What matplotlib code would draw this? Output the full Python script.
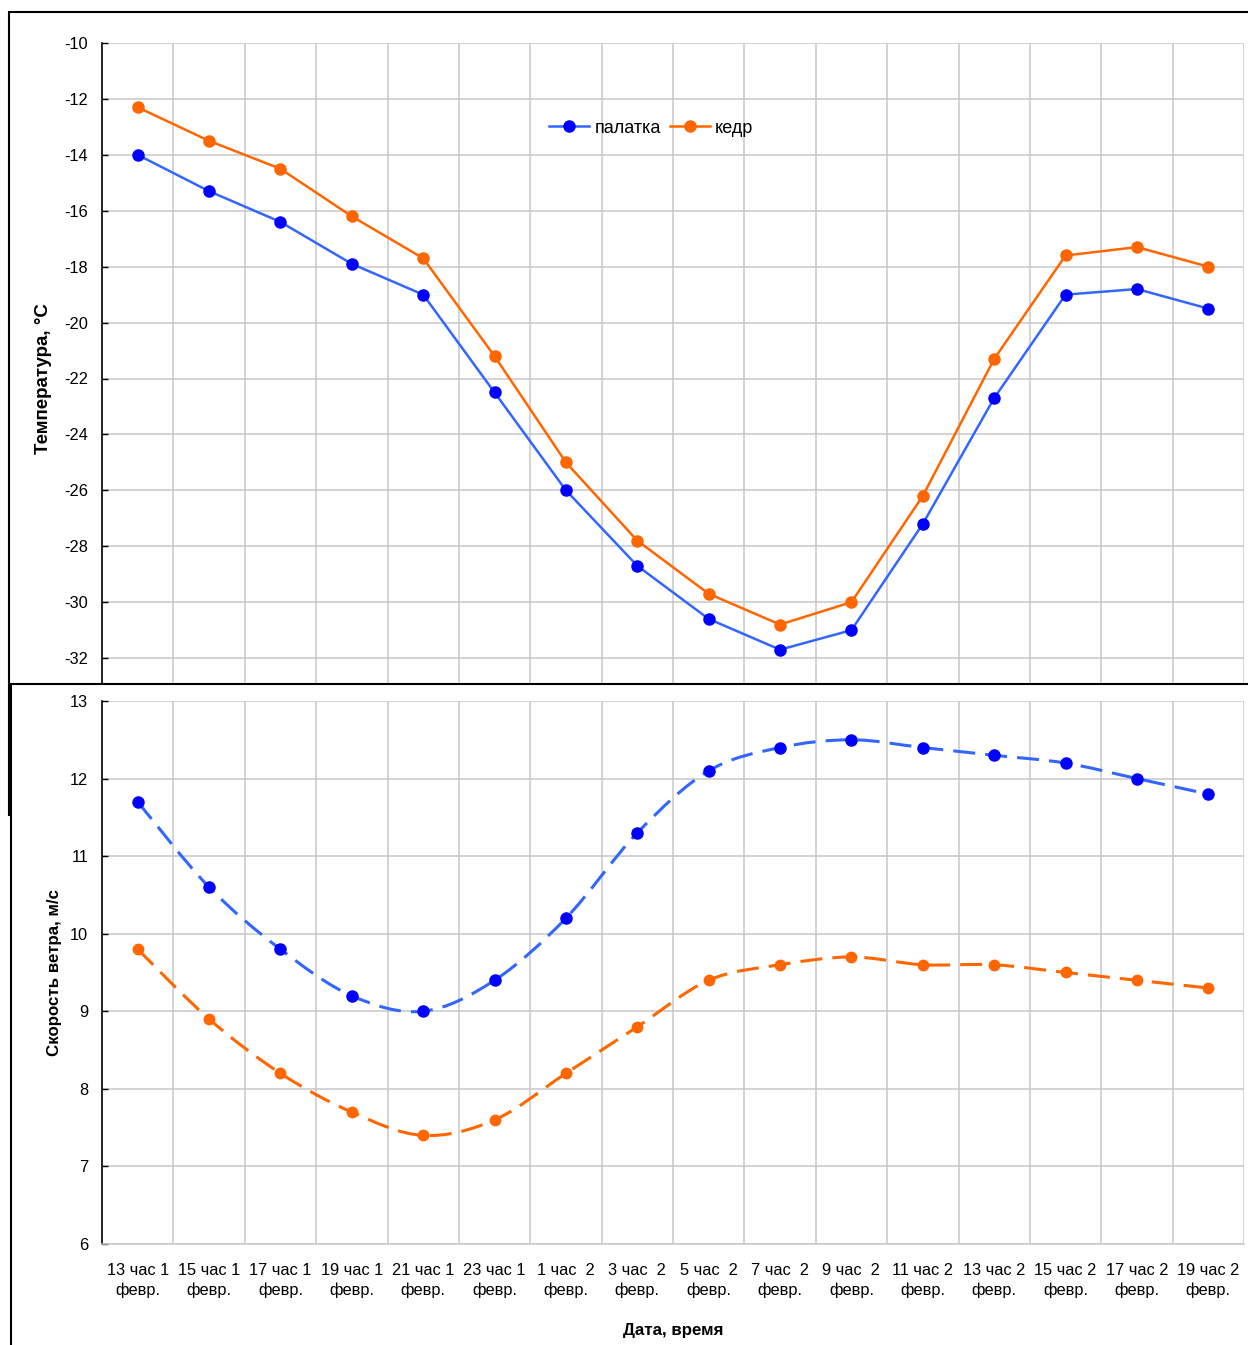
import matplotlib.pyplot as plt
from matplotlib.patches import Rectangle, PathPatch
from matplotlib.path import Path

plt.rcParams['font.family'] = ['Liberation Sans', 'DejaVu Sans']
plt.rcParams['axes.unicode_minus'] = False

# данные
hours = ["13 час 1\nфевр.", "15 час 1\nфевр.", "17 час 1\nфевр.", "19 час 1\nфевр.",
         "21 час 1\nфевр.", "23 час 1\nфевр.", "1 час  2\nфевр.", "3 час  2\nфевр.",
         "5 час  2\nфевр.", "7 час  2\nфевр.", "9 час  2\nфевр.", "11 час 2\nфевр.",
         "13 час 2\nфевр.", "15 час 2\nфевр.", "17 час 2\nфевр.", "19 час 2\nфевр."]

temp_tent = [-14.0, -15.3, -16.4, -17.9, -19.0, -22.5, -26.0, -28.7,
             -30.6, -31.7, -31.0, -27.2, -22.7, -19.0, -18.8, -19.5]
temp_cedar = [-12.3, -13.5, -14.5, -16.2, -17.7, -21.2, -25.0, -27.8,
              -29.7, -30.8, -30.0, -26.2, -21.3, -17.6, -17.3, -18.0]

wind_tent = [11.7, 10.6, 9.8, 9.2, 9.0, 9.4, 10.2, 11.3,
             12.1, 12.4, 12.5, 12.4, 12.3, 12.2, 12.0, 11.8]
wind_cedar = [9.8, 8.9, 8.2, 7.7, 7.4, 7.6, 8.2, 8.8,
              9.4, 9.6, 9.7, 9.6, 9.6, 9.5, 9.4, 9.3]

line_blue = '#3366ff'
mark_blue = '#0000ff'
orange = '#ff6600'
grid_c = '#c8c8c8'

W, H = 1248, 1345


def fx(px):
    return px / W


def fy(py):
    return 1 - py / H


def smooth_path(xs, ys):
    # сглаженная линия как в Excel (кривые Безье через точки)
    pts = list(zip(xs, ys))
    verts = [pts[0]]
    codes = [Path.MOVETO]
    n = len(pts)
    for i in range(n - 1):
        p0 = pts[i - 1] if i > 0 else pts[i]
        p1 = pts[i]
        p2 = pts[i + 1]
        p3 = pts[i + 2] if i + 2 < n else pts[i + 1]
        c1 = (p1[0] + (p2[0] - p0[0]) / 6, p1[1] + (p2[1] - p0[1]) / 6)
        c2 = (p2[0] - (p3[0] - p1[0]) / 6, p2[1] - (p3[1] - p1[1]) / 6)
        verts += [c1, c2, p2]
        codes += [Path.CURVE4] * 3
    return Path(verts, codes)


fig = plt.figure(figsize=(W / 100, H / 100), dpi=100)

# рамки двух диаграмм
fig.add_artist(Rectangle((fx(9), fy(815)), fx(1260) - fx(9), fy(12) - fy(815),
                         transform=fig.transFigure, facecolor='white',
                         edgecolor='black', lw=1.5, zorder=-2))
fig.add_artist(Rectangle((fx(11), fy(1360)), fx(1260) - fx(11), fy(684) - fy(1360),
                         transform=fig.transFigure, facecolor='white',
                         edgecolor='black', lw=1.5, zorder=0.5))

x = list(range(len(hours)))
left, right = 102, 1244

# верхняя диаграмма: температура
ax1 = fig.add_axes([fx(left), fy(714), fx(right) - fx(left), fy(43) - fy(714)])
ax1.set_zorder(0)
ax1.patch.set_alpha(0)
ax1.plot(x, temp_tent, color=line_blue, lw=1.8, marker='o', ms=8,
         mfc=mark_blue, mec=mark_blue, label='палатка', zorder=3)
ax1.plot(x, temp_cedar, color=orange, lw=1.8, marker='o', ms=8,
         mfc=orange, mec=orange, label='кедр', zorder=3)
ax1.set_xlim(-0.5, len(hours) - 0.5)
ax1.set_ylim(-34, -10)
ax1.set_yticks(range(-32, -9, 2))
ax1.set_xticks([i + 0.5 for i in x])
ax1.tick_params(axis='x', length=0, labelbottom=False)
ax1.tick_params(axis='y', direction='in', length=4, width=1, labelsize=11.8, pad=10)
ax1.grid(True, color=grid_c, lw=1.1)
ax1.set_axisbelow(True)
for s in ['top', 'right', 'bottom']:
    ax1.spines[s].set_visible(False)
ax1.spines['left'].set_linewidth(1.2)
ax1.set_ylabel('Температура, °С', fontsize=13.5, fontweight='bold', labelpad=9)
leg = ax1.legend(loc='center', bbox_to_anchor=(0.481, 0.873), ncol=2, frameon=False,
                 fontsize=13, handlelength=2.2, columnspacing=0.5, handletextpad=0.3)

# нижняя диаграмма: скорость ветра
ax2 = fig.add_axes([fx(left), fy(1244), fx(right) - fx(left), fy(701) - fy(1244)])
ax2.set_zorder(1)
ax2.patch.set_alpha(0)
ax2.add_patch(PathPatch(smooth_path(x, wind_tent), fill=False, edgecolor=line_blue,
                        lw=2.2, linestyle=(0, (7.2, 3.3)), zorder=3))
ax2.add_patch(PathPatch(smooth_path(x, wind_cedar), fill=False, edgecolor=orange,
                        lw=2.2, linestyle=(0, (7.2, 3.3)), zorder=3))
ax2.plot(x, wind_tent, 'o', ms=8, color=mark_blue, zorder=4)
ax2.plot(x, wind_cedar, 'o', ms=7.5, color=orange, zorder=4)
ax2.set_xlim(-0.5, len(hours) - 0.5)
ax2.set_ylim(6, 13)
ax2.set_yticks(range(6, 14))
ax2.set_xticks([i + 0.5 for i in x[:-1]], minor=False)
ax2.set_xticks(x, minor=True)
ax2.set_xticklabels([])
ax2.set_xticklabels(hours, minor=True, linespacing=1.35)
ax2.tick_params(axis='x', which='both', length=0, labelsize=11.8, pad=14)
ax2.tick_params(axis='y', direction='in', length=4, width=1, labelsize=11.8, pad=10)
ax2.grid(True, which='major', color=grid_c, lw=1.1)
ax2.axvline(len(hours) - 0.5, color=grid_c, lw=1.1)
ax2.set_axisbelow(True)
for s in ['top', 'right']:
    ax2.spines[s].set_visible(False)
ax2.spines['bottom'].set_color(grid_c)
ax2.spines['bottom'].set_linewidth(1.1)
ax2.spines['left'].set_linewidth(1.2)
ax2.set_ylabel('Скорость ветра, м/с', fontsize=12.2, fontweight='bold', labelpad=6)
ax2.set_xlabel('Дата, время', fontsize=12.2, fontweight='bold', labelpad=18)

fig.savefig('out.png', dpi=100)
